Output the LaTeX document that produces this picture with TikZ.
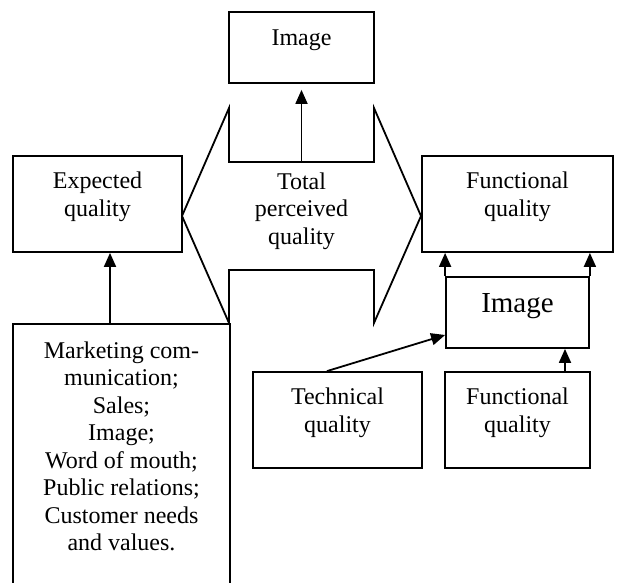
\documentclass[tikz,border=0pt]{standalone}
\usepackage{fontspec}
\setmainfont{Liberation Serif}
\usetikzlibrary{arrows.meta}
\newcommand\bodyfont{\fontsize{24}{27.5}\selectfont}
\tikzset{
  box/.style={draw, line width=1.8pt, align=center, font=\bodyfont,
    inner sep=0pt, text depth=20pt},
  arr/.style={line width=1.8pt, -{Triangle[width=12pt,length=14pt]}}
}
\begin{document}
\begin{tikzpicture}[x=1pt,y=-1pt]
  \useasboundingbox (0,0) rectangle (638,583);
  \node[box, minimum width=145pt, minimum height=71pt] (img) at (301.5,47.5) {Image};
  \node[box, minimum width=169pt, minimum height=96pt] (exp) at (97.5,204) {Expected\\quality};
  \node[box, minimum width=191pt, minimum height=96pt] (func) at (517.5,204) {Functional\\quality};
  \node[box, minimum width=143pt, minimum height=71pt, text depth=18pt,
    font=\fontsize{29}{33}\selectfont] (imgtwo) at (517.5,312.5) {Image};
  \node[box, minimum width=169pt, minimum height=96pt] (tech) at (337.5,420) {Technical\\quality};
  \node[box, minimum width=145pt, minimum height=96pt] (functwo) at (517.5,420) {Functional\\quality};
  \node[box, minimum width=217pt, anchor=north, inner ysep=17.6pt, text depth=300pt] (mkt) at (121.5,323)
    {Marketing com-\\munication;\\Sales;\\Image;\\Word of mouth;\\Public relations;\\Customer needs\\and values.};
  % total perceived quality
  \draw[line width=1.8pt] (229,162) -- (229,108) -- (182,216) -- (229,323) -- (229,270)
    -- (374,270) -- (374,323) -- (421,216) -- (374,108) -- (374,162) -- cycle;
  \coordinate (notch) at (301.5,162);
  \node[align=center, font=\bodyfont, inner sep=0pt] (total) at (301.5,211) {Total\\perceived\\quality};
  \draw[arr, shorten >=6pt] (notch) -- (img.south);
  \draw[arr] ([xshift=-11.5pt]mkt.north) -- ([xshift=12.5pt]exp.south);
  \draw[arr] (imgtwo.north west) -- (imgtwo.north west |- func.south);
  \draw[arr] (imgtwo.north east) -- (imgtwo.north east |- func.south);
  \draw[arr] ([xshift=-10.5pt]tech.north) -- ([yshift=-22.5pt]imgtwo.west);
  \draw[arr] ([xshift=47.5pt]functwo.north) -- ([xshift=47.5pt]imgtwo.south);
\end{tikzpicture}
\end{document}
